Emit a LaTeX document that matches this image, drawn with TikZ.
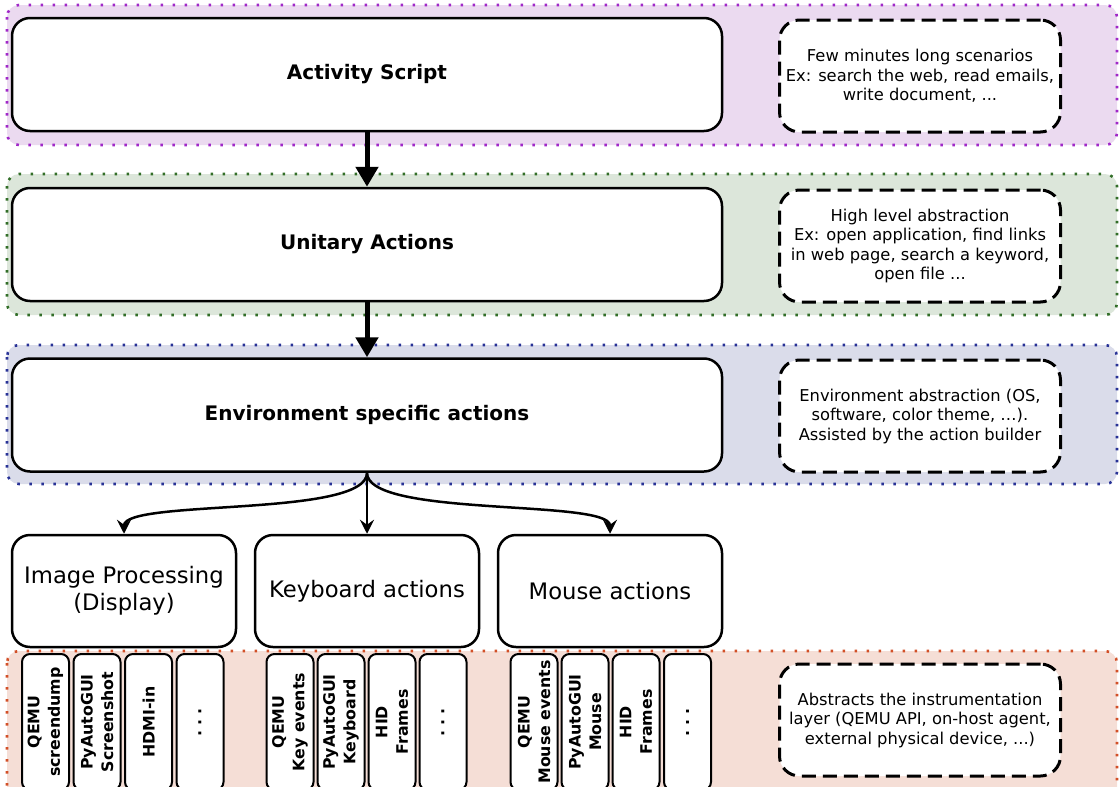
\documentclass[tikz,border=0pt]{standalone}
\usepackage{fontspec}
\setmainfont{DejaVu Sans}
\usetikzlibrary{arrows.meta}
\definecolor{purpfill}{RGB}{235,218,240}
\definecolor{purpdot}{RGB}{160,40,200}
\definecolor{greenfill}{RGB}{220,230,218}
\definecolor{greendot}{RGB}{50,110,40}
\definecolor{bluefill}{RGB}{218,220,234}
\definecolor{bluedot}{RGB}{40,50,150}
\definecolor{redfill}{RGB}{245,222,214}
\definecolor{reddot}{RGB}{210,80,40}
\newcommand{\vdotsbox}{.\hspace{5pt}.\hspace{5pt}.}
\tikzset{
  band/.style={rounded corners=12pt, line width=2.6pt, dash pattern=on 2.6pt off 9.4pt},
  mainbox/.style={draw, line width=2.5pt, rounded corners=18pt, fill=white, minimum width=710pt, minimum height=113pt, font=\bfseries\fontsize{20}{24}\selectfont},
  descbox/.style={draw, line width=3pt, dash pattern=on 14pt off 7pt, rounded corners=20pt, fill=white, minimum width=281pt, minimum height=112pt, align=center, inner sep=0pt, font=\fontsize{16.3}{19.5}\selectfont},
  subbox/.style={draw, line width=2.5pt, rounded corners=18pt, fill=white, minimum width=224pt, minimum height=112pt, align=center, font=\fontsize{22.7}{27}\selectfont},
  toolbox/.style={draw, line width=2pt, rounded corners=8pt, fill=white, rotate=90, minimum width=136pt, minimum height=47pt, inner sep=0pt, align=center, font=\bfseries\fontsize{15.8}{20.5}\selectfont},
  bigarrow/.style={line width=5pt, -{Triangle[width=22pt,length=20pt]}},
  thinarrow/.style={line width=2.5pt, -{Stealth[width=14pt,length=14pt,inset=5pt]}},
}
\begin{document}
\begin{tikzpicture}[x=1pt,y=-1pt]
\useasboundingbox (0,0) rectangle (1119,787);
\clip (0,0) rectangle (1119,787);
% bands
\path[band, fill=purpfill, draw=purpdot] (7,5) rectangle (1117,145);
\path[band, fill=greenfill, draw=greendot] (7,174) rectangle (1117,315);
\path[band, fill=bluefill, draw=bluedot] (7,345) rectangle (1117,484);
\path[band, fill=redfill, draw=reddot] (7,651) rectangle (1117,820);
% main boxes
\node[mainbox] (act) at (367,74.5) {Activity Script};
\node[mainbox] (uni) at (367,244.5) {Unitary Actions};
\node[mainbox] (env) at (367,415) {Environment specific actions};
% description boxes
\node[descbox] (dact) at (920,76) {Few minutes long scenarios\\Ex: search the web, read emails,\\write document, ...};
\node[descbox] (duni) at (920,246) {High level abstraction\\Ex: open application, find links\\in web page, search a keyword,\\open file ...};
\node[descbox] (denv) at (920,416) {Environment abstraction (OS,\\software, color theme, …).\\Assisted by the action builder};
\node[descbox] (dins) at (920,720) {Abstracts the instrumentation\\layer (QEMU API, on-host agent,\\external physical device, ...)};
% sub boxes
\node[subbox] (img) at (124,591) {Image Processing\\(Display)};
\node[subbox] (kbd) at (367,591) {Keyboard actions};
\node[subbox] (mou) at (610,591) {Mouse actions};
% tool boxes
\node[toolbox] (t1) at (45.5,722) {QEMU\\screendump};
\node[toolbox] (t2) at (97,722) {PyAutoGUI\\Screenshot};
\node[toolbox] (t3) at (148.5,722) {HDMI-in};
\node[toolbox] (t4) at (200,722) {\vdotsbox};
\node[toolbox] (t5) at (290,722) {QEMU\\Key events};
\node[toolbox] (t6) at (341,722) {PyAutoGUI\\Keyboard};
\node[toolbox] (t7) at (392,722) {HID\\Frames};
\node[toolbox] (t8) at (443,722) {\vdotsbox};
\node[toolbox] (t9) at (534,722) {QEMU\\Mouse events};
\node[toolbox] (t10) at (585,722) {PyAutoGUI\\Mouse};
\node[toolbox] (t11) at (636,722) {HID\\Frames};
\node[toolbox] (t12) at (687.5,722) {\vdotsbox};
% arrows
\draw[bigarrow] (act.south) -- (uni.north);
\draw[bigarrow] (uni.south) -- (env.north);
\draw[thinarrow] (env.south) .. controls +(0,45) and +(0,-35) .. (img.north);
\draw[thinarrow] (env.south) -- (kbd.north);
\draw[thinarrow] (env.south) .. controls +(0,45) and +(0,-35) .. (mou.north);
\end{tikzpicture}
\end{document}
